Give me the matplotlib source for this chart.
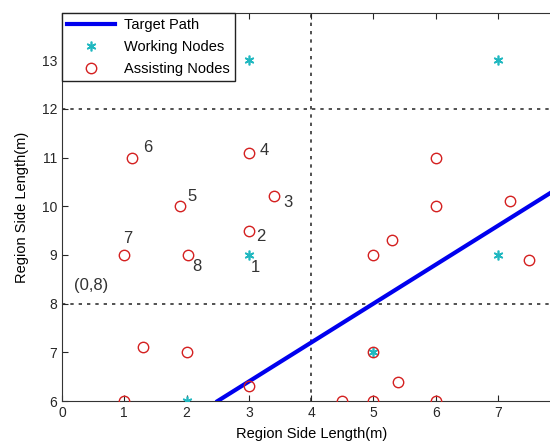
import numpy as np
import matplotlib.pyplot as plt

plt.rcParams['font.family'] = ['Liberation Sans', 'DejaVu Sans']

# target path end points
path_x = [2.5, 8.0]
path_y = [6.0, 10.4]

# working nodes
work_x = [3, 7, 3, 7, 2, 5]
work_y = [13, 13, 9, 9, 6, 7]

# assisting nodes
assist_x = [1.12, 3.0, 1.89, 3.4, 3.0, 1.0, 2.02, 1.3, 2.0, 1.0, 3.0, 5.0, 5.4,
            4.5, 5.0, 6.0, 6.0, 6.0, 5.3, 5.0, 7.2, 7.5]
assist_y = [11.0, 11.1, 10.0, 10.2, 9.5, 9.0, 9.0, 7.1, 7.0, 6.0, 6.3, 7.0, 6.4,
            6.0, 6.0, 6.0, 11.0, 10.0, 9.3, 9.0, 10.1, 8.9]

# numbered node labels
lbl_text = ['1', '2', '3', '4', '5', '6', '7', '8', '(0,8)']
lbl_x = [3.1, 3.2, 3.63, 3.24, 2.08, 1.37, 1.06, 2.17, 0.46]
lbl_y = [8.75, 9.37, 10.07, 11.15, 10.2, 11.2, 9.33, 8.76, 8.38]

fig = plt.figure(figsize=(5.5, 4.41), dpi=100)
ax = fig.add_axes([0.1127, 0.0907, 0.906, 0.88])

ax.plot(path_x, path_y, color='#0000ee', lw=3, label='Target Path', zorder=3)
ax.plot(work_x, work_y, ls='none', marker=(6, 2, 0), ms=7, mec='#20b8c0',
        mew=1.2, label='Working Nodes', zorder=4)
ax.plot(assist_x, assist_y, ls='none', marker='o', ms=7.5, mfc='none', mec='#d42020',
        mew=1, label='Assisting Nodes', zorder=4)

# region grid
ax.axvline(4, color='#333333', ls=(0, (2, 3)), lw=1.2, zorder=1)
ax.axhline(8, color='#333333', ls=(0, (2, 3)), lw=1.2, zorder=1)
ax.axhline(12, color='#333333', ls=(0, (2, 3)), lw=1.2, zorder=1)

for t, x, y in zip(lbl_text, lbl_x, lbl_y):
    ax.text(x, y, t, fontsize=12, color='#333333', ha='center', va='center')

ax.set_xlim(0, 8)
ax.set_ylim(6, 13.97)
ax.set_xticks(range(0, 9))
ax.set_xticklabels([str(i) for i in range(0, 8)] + [''])
ax.set_yticks(range(6, 14))
ax.tick_params(direction='in', top=True, right=True, labelsize=10, colors='#262626',
               length=4)
ax.set_xlabel('Region Side Length(m)', fontsize=10.5, labelpad=5)
ax.set_ylabel('Region Side Length(m)', fontsize=10.5, labelpad=9)
for s in ax.spines.values():
    s.set_color('#333333')

leg = ax.legend(loc='upper left', fontsize=10.5, fancybox=False, framealpha=1,
                edgecolor='#222222', borderaxespad=0, handlelength=3.3,
                handletextpad=0.6, borderpad=0.35, labelspacing=0.55)

fig.savefig('out.png', dpi=100)
